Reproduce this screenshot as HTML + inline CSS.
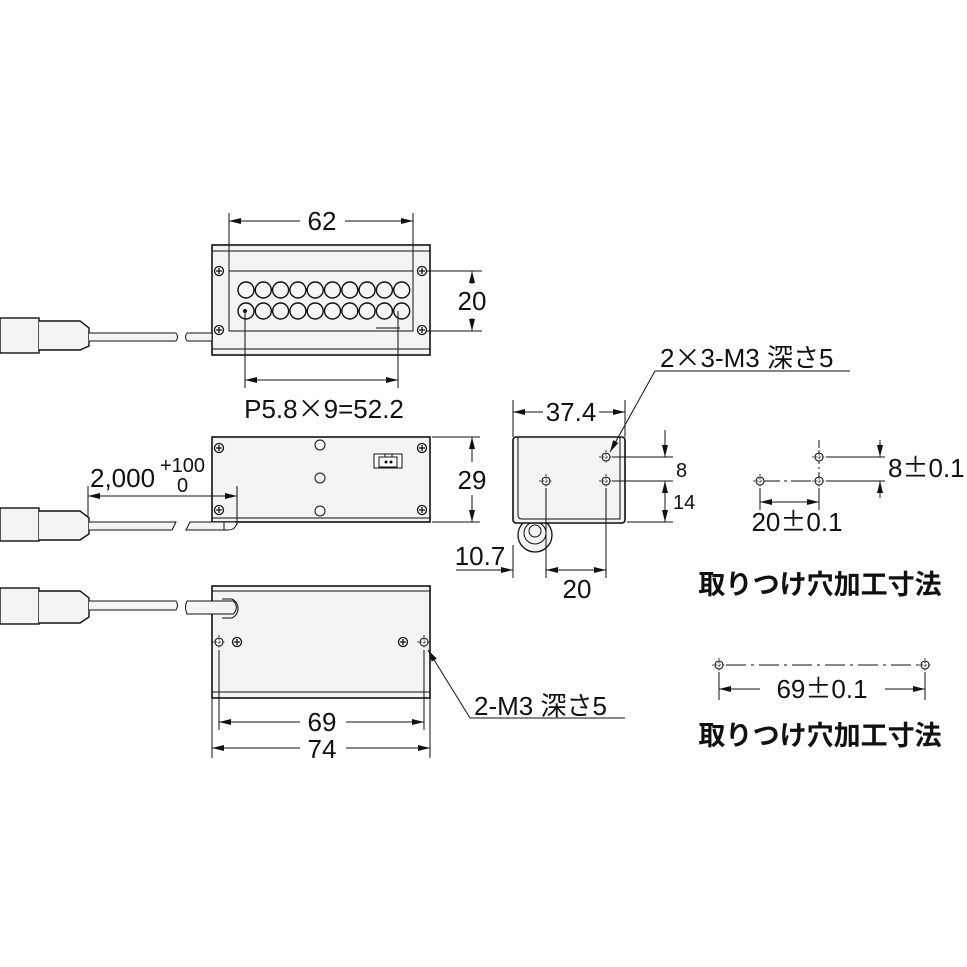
<!DOCTYPE html><html><head><meta charset="utf-8"><style>body{margin:0;background:#fff}svg{display:block}text{font-family:"Liberation Sans","Noto Sans CJK JP",sans-serif;fill:#111}.j{font-family:"Noto Sans CJK JP",sans-serif}</style></head><body>
<svg width="967" height="967" viewBox="0 0 967 967" xmlns="http://www.w3.org/2000/svg">
<defs>
<marker id="a" viewBox="0 0 12 6" refX="12" refY="3" markerWidth="12" markerHeight="6" orient="auto-start-reverse" markerUnits="userSpaceOnUse"><path d="M0,0L12,3L0,6z" fill="#111"/></marker>
<g id="s"><circle r="4.5" fill="#fff" stroke="#111" stroke-width="1.3"/><path d="M-3,0H3M0,-3V3" stroke="#111" stroke-width="1.3"/></g>
<g id="h"><circle r="4" fill="#fff" stroke="#111" stroke-width="1.1"/><path d="M-7,0H7M0,-7V7" stroke="#111" stroke-width="0.8" stroke-dasharray="2,1.5"/></g>
</defs>
<g stroke="#111" fill="none" stroke-width="1">
<rect x="212" y="245" width="218" height="110" fill="#f4f4f4" stroke-width="1.6"/>
<line x1="212" y1="251" x2="430" y2="251"/><line x1="212" y1="349" x2="430" y2="349"/>
<rect x="229" y="271" width="184" height="60" fill="#f4f4f4"/>
<line x1="376" y1="328" x2="400" y2="328"/>
<g stroke-width="1.4" fill="#f7f7f7">
<circle cx="246" cy="290" r="8"/><circle cx="263.3" cy="290" r="8"/><circle cx="280.6" cy="290" r="8"/><circle cx="297.9" cy="290" r="8"/><circle cx="315.2" cy="290" r="8"/><circle cx="332.5" cy="290" r="8"/><circle cx="349.8" cy="290" r="8"/><circle cx="367.1" cy="290" r="8"/><circle cx="384.4" cy="290" r="8"/><circle cx="401.7" cy="290" r="8"/>
<circle cx="246" cy="311" r="8"/><circle cx="263.3" cy="311" r="8"/><circle cx="280.6" cy="311" r="8"/><circle cx="297.9" cy="311" r="8"/><circle cx="315.2" cy="311" r="8"/><circle cx="332.5" cy="311" r="8"/><circle cx="349.8" cy="311" r="8"/><circle cx="367.1" cy="311" r="8"/><circle cx="384.4" cy="311" r="8"/><circle cx="401.7" cy="311" r="8"/>
</g>
<circle cx="245" cy="311" r="1.5" fill="#111"/>
<line x1="229" y1="213" x2="229" y2="271"/><line x1="413" y1="213" x2="413" y2="331"/>
<line x1="229" y1="221" x2="300" y2="221" marker-start="url(#a)"/><line x1="345" y1="221" x2="413" y2="221" marker-end="url(#a)"/>
<line x1="422" y1="271" x2="482" y2="271"/><line x1="422" y1="331" x2="482" y2="331"/>
<line x1="472" y1="271" x2="472" y2="284" marker-start="url(#a)"/><line x1="472" y1="318" x2="472" y2="331" marker-end="url(#a)"/>
<line x1="245" y1="311" x2="245" y2="388"/><line x1="398" y1="311" x2="398" y2="388"/>
<line x1="245" y1="380" x2="398" y2="380" marker-start="url(#a)" marker-end="url(#a)"/>
<rect x="0" y="318" width="39" height="35" fill="#f4f4f4" stroke-width="1.4"/>
<path d="M39,321H80L89,328V346L80,350H39" fill="#f4f4f4" stroke-width="1.4"/>
<path d="M89,333H176Q179,337 176,341H89" fill="#f4f4f4"/>
<path d="M187,333H212V341H187Q184,337 187,333Z" fill="#f4f4f4"/>
<rect x="212" y="437" width="218" height="85" fill="#f4f4f4" stroke-width="1.6"/>
<line x1="212" y1="518" x2="430" y2="518"/>
<circle cx="320" cy="445" r="5"/><circle cx="320" cy="478" r="5"/><circle cx="320" cy="511" r="5"/>
<rect x="374" y="454" width="28" height="14" fill="#fff"/><rect x="379" y="457" width="18" height="10"/><line x1="385" y1="454" x2="385" y2="457"/><line x1="392" y1="454" x2="392" y2="457"/>
<circle cx="386" cy="462" r="1" fill="#111"/><circle cx="391" cy="462" r="1" fill="#111"/>
<line x1="432" y1="437" x2="480" y2="437"/><line x1="432" y1="522" x2="480" y2="522"/>
<line x1="472" y1="437" x2="472" y2="462" marker-start="url(#a)"/><line x1="472" y1="495" x2="472" y2="522" marker-end="url(#a)"/>
<line x1="88" y1="486" x2="88" y2="520"/><line x1="237" y1="486" x2="237" y2="525"/>
<line x1="88" y1="496" x2="237" y2="496" marker-start="url(#a)" marker-end="url(#a)"/>
<rect x="0" y="508" width="39" height="33" fill="#f4f4f4" stroke-width="1.4"/>
<path d="M39,511H80L89,518V534L80,540H39" fill="#f4f4f4" stroke-width="1.4"/>
<path d="M89,522H176L172,530H89" fill="#f4f4f4"/>
<path d="M190,522H237Q236,530 228,530H186Z" fill="#f4f4f4"/>
<line x1="224" y1="522" x2="224" y2="530"/>
<rect x="212" y="586" width="218" height="112" fill="#f4f4f4" stroke-width="1.6"/>
<line x1="212" y1="591" x2="430" y2="591"/><line x1="212" y1="692" x2="430" y2="692"/>
<rect x="0" y="588" width="39" height="36" fill="#f4f4f4" stroke-width="1.4"/>
<path d="M39,591H80L89,598V617L80,623H39" fill="#f4f4f4" stroke-width="1.4"/>
<path d="M89,601H176Q179,605 176,610H89" fill="#f4f4f4"/>
<path d="M187,601H233A8,8 0 0 1 233,614H187Q184,607 187,601Z" fill="#f4f4f4"/>
<path d="M222,599H232A10.5,10.5 0 0 1 232,618H222"/>
<line x1="219" y1="650" x2="219" y2="730"/><line x1="424" y1="650" x2="424" y2="730"/>
<line x1="212" y1="698" x2="212" y2="758"/><line x1="430" y1="698" x2="430" y2="758"/>
<line x1="219" y1="722" x2="300" y2="722" marker-start="url(#a)"/><line x1="346" y1="722" x2="424" y2="722" marker-end="url(#a)"/>
<line x1="212" y1="748" x2="300" y2="748" marker-start="url(#a)"/><line x1="346" y1="748" x2="430" y2="748" marker-end="url(#a)"/>
<line x1="470" y1="718" x2="428" y2="650" marker-end="url(#a)"/><line x1="470" y1="718" x2="625" y2="718"/>
<circle cx="535" cy="535" r="17" fill="#f4f4f4" stroke-width="1.3"/><circle cx="535" cy="533" r="11"/><circle cx="535" cy="531" r="6"/>
<rect x="513" y="437" width="112" height="86" rx="3" fill="#f4f4f4" stroke-width="1.6"/>
<path d="M518,437V515Q518,519 522,519H620V437"/>
<line x1="513" y1="400" x2="513" y2="437"/><line x1="625" y1="400" x2="625" y2="437"/>
<line x1="513" y1="412" x2="543" y2="412" marker-start="url(#a)"/><line x1="599" y1="412" x2="625" y2="412" marker-end="url(#a)"/>
<line x1="612" y1="457" x2="673" y2="457"/><line x1="612" y1="481" x2="673" y2="481"/><line x1="627" y1="522" x2="673" y2="522"/>
<line x1="665" y1="430" x2="665" y2="457" marker-end="url(#a)"/><line x1="665" y1="481" x2="665" y2="522" marker-start="url(#a)" marker-end="url(#a)"/>
<line x1="546" y1="488" x2="546" y2="578"/><line x1="606" y1="488" x2="606" y2="578"/>
<line x1="456" y1="570" x2="513" y2="570" marker-end="url(#a)"/><line x1="513" y1="545" x2="513" y2="578"/>
<line x1="546" y1="570" x2="606" y2="570" marker-start="url(#a)" marker-end="url(#a)"/>
<line x1="655" y1="371" x2="610" y2="452" marker-end="url(#a)"/><line x1="655" y1="371" x2="850" y2="371"/>
<line x1="819" y1="440" x2="819" y2="481" stroke-dasharray="8,3,2,3"/>
<line x1="760" y1="481" x2="819" y2="481" stroke-dasharray="20,4,3,4"/>
<line x1="826" y1="457" x2="885" y2="457"/><line x1="826" y1="481" x2="885" y2="481"/>
<line x1="880" y1="440" x2="880" y2="457" marker-end="url(#a)"/><line x1="880" y1="498" x2="880" y2="481" marker-end="url(#a)"/>
<line x1="760" y1="488" x2="760" y2="510"/><line x1="819" y1="488" x2="819" y2="510"/>
<line x1="760" y1="502" x2="819" y2="502" marker-start="url(#a)" marker-end="url(#a)"/>
<line x1="726" y1="665" x2="918" y2="665" stroke-dasharray="20,5,3,5"/>
<line x1="719" y1="672" x2="719" y2="700"/><line x1="925" y1="672" x2="925" y2="700"/>
<line x1="719" y1="689" x2="760" y2="689" marker-start="url(#a)"/><line x1="885" y1="689" x2="925" y2="689" marker-end="url(#a)"/>
</g>
<g>
<use href="#s" x="219" y="271"/><use href="#s" x="422" y="271"/><use href="#s" x="219" y="330"/><use href="#s" x="422" y="330"/>
<use href="#s" x="219" y="448"/><use href="#s" x="422" y="448"/><use href="#s" x="219" y="510"/><use href="#s" x="422" y="510"/>
<use href="#h" x="219" y="642"/><use href="#s" x="237" y="642"/><use href="#s" x="403" y="642"/><use href="#h" x="424" y="642"/>
<use href="#h" x="546" y="481"/><use href="#h" x="606" y="457"/><use href="#h" x="606" y="481"/>
<use href="#h" x="760" y="481"/><use href="#h" x="819" y="457"/><use href="#h" x="819" y="481"/>
<use href="#h" x="719" y="665"/><use href="#h" x="925" y="665"/>
</g>
<g font-size="26">
<text x="322" y="230" text-anchor="middle">62</text>
<text x="472" y="310" text-anchor="middle">20</text>
<text x="324" y="418" text-anchor="middle">P5.8<tspan class="j">×</tspan>9=52.2</text>
<text x="472" y="489" text-anchor="middle">29</text>
<text x="90" y="487">2,000</text>
<text x="322" y="731" text-anchor="middle">69</text>
<text x="322" y="758" text-anchor="middle">74</text>
<text x="474" y="715">2-M3 深さ5</text>
<text x="571" y="421" text-anchor="middle">37.4</text>
<text x="660" y="367">2<tspan class="j">×</tspan>3-M3 深さ5</text>
<text x="480" y="565" text-anchor="middle">10.7</text>
<text x="577" y="598" text-anchor="middle">20</text>
<text x="888" y="477">8<tspan class="j">±</tspan>0.1</text>
<text x="797" y="531" text-anchor="middle">20<tspan class="j">±</tspan>0.1</text>
<text x="822" y="698" text-anchor="middle">69<tspan class="j">±</tspan>0.1</text>
</g>
<g font-size="20"><text x="160" y="472">+100</text><text x="177" y="492">0</text><text x="676" y="477">8</text><text x="673" y="509">14</text></g>
<g font-size="27" font-weight="bold"><text x="820" y="594" text-anchor="middle">取りつけ穴加工寸法</text><text x="820" y="745" text-anchor="middle">取りつけ穴加工寸法</text></g>
</svg></body></html>
